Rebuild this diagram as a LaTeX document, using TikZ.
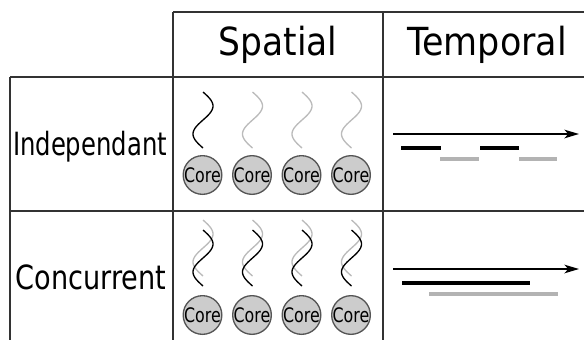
\documentclass[tikz,border=0pt]{standalone}
\usepackage{fontspec}
\setmainfont{DejaVu Sans}
\usetikzlibrary{arrows.meta}
\definecolor{tline}{HTML}{333333}
\definecolor{cfill}{HTML}{CCCCCC}
\definecolor{cdraw}{HTML}{555555}
\definecolor{wgray}{HTML}{BBBBBB}
\definecolor{bgray}{HTML}{B3B3B3}
\newcommand{\sqtext}[3]{\resizebox{#2}{\height}{\fontsize{#1}{#1}\selectfont #3}}
\tikzset{
  tbl/.style={draw=tline, line width=1.2pt},
  lbl/.style={inner sep=0pt, anchor=base},
  core/.style={circle, draw=cdraw, fill=cfill, line width=1pt, minimum size=29pt, inner sep=0pt},
  wave/.style={line width=1pt},
  bar/.style={line width=2.4pt},
  timeline/.style={line width=1.1pt, -{Stealth[length=11pt,width=6.5pt,inset=3pt]}},
}
\newcommand{\wavey}[3]{% x center, y top, color
  \draw[wave, #3] plot[variable=\t, domain=0:56, samples=50, smooth] ({#1+10*sin(6.428571*\t)}, {#2+\t});
}
\begin{document}
\begin{tikzpicture}[x=0.75pt, y=-0.75pt]
\useasboundingbox (0,0) rectangle (584,340);
% table frame
\coordinate (tl) at (173,12); \coordinate (tr) at (584,12);
\coordinate (m1l) at (10,77); \coordinate (m1r) at (584,77);
\coordinate (m2l) at (10,211); \coordinate (m2r) at (584,211);
\coordinate (v1b) at (173,340); \coordinate (v2t) at (383,12); \coordinate (v2b) at (383,340);
\coordinate (v0b) at (10,340);
\draw[tbl] (tl) -- (tr);
\draw[tbl] (m1l) -- (m1r);
\draw[tbl] (m2l) -- (m2r);
\draw[tbl] (tl) -- (v1b);
\draw[tbl] (v2t) -- (v2b);
\draw[tbl] (m1l) -- (v0b);
% headers
\node[lbl] (spatial) at (278,55) {\sqtext{29pt}{89pt}{Spatial}};
\node[lbl] (temporal) at (487,55) {\sqtext{29pt}{120pt}{Temporal}};
\node[lbl] (indep) at (90,155) {\sqtext{24pt}{115.5pt}{Independant}};
\node[lbl] (conc) at (91,289) {\sqtext{25pt}{113pt}{Concurrent}};
% row 1 waves
\wavey{203}{92}{black}
\wavey{252.5}{92}{wgray}
\wavey{302}{92}{wgray}
\wavey{351.5}{92}{wgray}
% row 2 waves
\foreach \cx in {203,252.5,302,351.5}{
  \wavey{\cx}{220}{wgray}
  \wavey{\cx}{230}{black}
}
% cores
\foreach \cx/\n in {202.5/a,252/b,301.5/c,351/d}{
  \node[core] (c1\n) at (\cx,175) {};
  \node[lbl] (t1\n) at (\cx,182.5) {\sqtext{15pt}{27.5pt}{Core}};
  \node[core] (c2\n) at (\cx,315) {};
  \node[lbl] (t2\n) at (\cx,322.5) {\sqtext{15pt}{27.5pt}{Core}};
}
% temporal row 1
\coordinate (a1s) at (393,134); \coordinate (a1e) at (579,134);
\draw[timeline] (a1s) -- (a1e);
\coordinate (b1s) at (401,148); \coordinate (b1e) at (441,148);
\coordinate (b2s) at (480,148); \coordinate (b2e) at (519,148);
\draw[bar, black] (b1s) -- (b1e);
\draw[bar, black] (b2s) -- (b2e);
\coordinate (g1s) at (440,159); \coordinate (g1e) at (479,159);
\coordinate (g2s) at (519,159); \coordinate (g2e) at (557,159);
\draw[bar, bgray] (g1s) -- (g1e);
\draw[bar, bgray] (g2s) -- (g2e);
% temporal row 2
\coordinate (a2s) at (393,269); \coordinate (a2e) at (579,269);
\draw[timeline] (a2s) -- (a2e);
\coordinate (b3s) at (402,283); \coordinate (b3e) at (530,283);
\draw[bar, black] (b3s) -- (b3e);
\coordinate (g3s) at (429,294); \coordinate (g3e) at (558,294);
\draw[bar, bgray] (g3s) -- (g3e);
\end{tikzpicture}
\end{document}
